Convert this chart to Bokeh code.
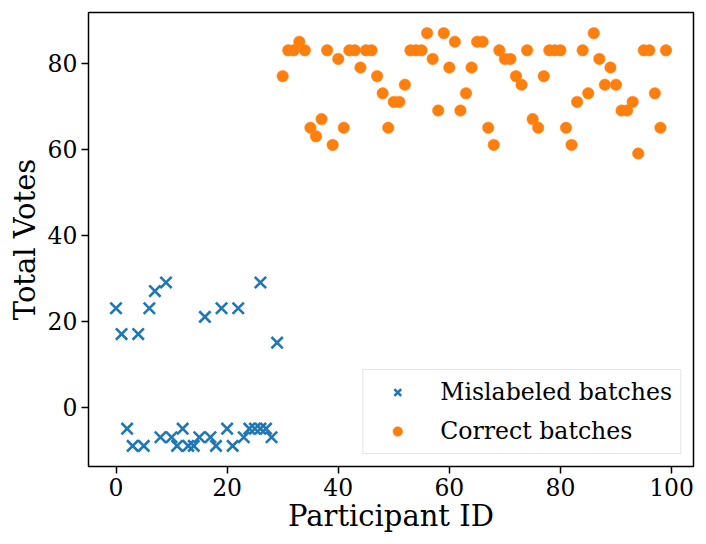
from bokeh.plotting import figure
from bokeh.models import ColumnDataSource, Range1d, FixedTicker, Legend, LegendItem
from bokeh.embed import file_html
from bokeh.resources import INLINE

# Mislabeled batches (participant id, total votes)
mis_x = [0, 1, 2, 3, 4, 5, 6, 7, 8, 9, 10, 11, 12, 13, 14, 15, 16, 17, 18, 19,
         20, 21, 22, 23, 24, 25, 26, 26, 27, 28, 29]
mis_y = [23, 17, -5, -9, 17, -9, 23, 27, -7, 29, -7, -9, -5, -9, -9, -7, 21, -7, -9, 23,
         -5, -9, 23, -7, -5, -5, 29, -5, -5, -7, 15]

# Correct batches
cor_x = list(range(30, 100))
cor_y = [77, 83, 83, 85, 83, 65, 63, 67, 83, 61,
         81, 65, 83, 83, 79, 83, 83, 77, 73, 65,
         71, 71, 75, 83, 83, 83, 87, 81, 69, 87,
         79, 85, 69, 73, 79, 85, 85, 65, 61, 83,
         81, 81, 77, 75, 83, 67, 65, 77, 83, 83,
         83, 65, 61, 71, 83, 73, 87, 81, 75, 79,
         75, 69, 69, 71, 59, 83, 83, 73, 65, 83]

x_ticks = [0, 20, 40, 60, 80, 100]
y_ticks = [0, 20, 40, 60, 80]

FONT = "DejaVu Serif"
BLUE = "#1f77b4"
ORANGE = "#ff7f0e"

p = figure(frame_width=605, frame_height=454, output_backend="svg", toolbar_location=None,
           x_range=Range1d(-4.95, 103.95), y_range=Range1d(-13.8, 91.8),
           min_border_left=88, min_border_right=13, min_border_top=12, min_border_bottom=76)
p.background_fill_color = "white"
p.border_fill_color = "white"
p.outline_line_color = "black"
p.outline_line_width = 1.5
p.xgrid.visible = False
p.ygrid.visible = False

src_m = ColumnDataSource(dict(x=mis_x, y=mis_y))
src_c = ColumnDataSource(dict(x=cor_x, y=cor_y))
r1 = p.scatter("x", "y", source=src_m, marker="x", size=16, line_color=BLUE, line_width=2.6)
r2 = p.scatter("x", "y", source=src_c, marker="circle", size=11.5, fill_color=ORANGE,
               line_color=ORANGE, line_width=0.5)

for ax, ticks, lab in ((p.xaxis[0], x_ticks, "Participant ID"), (p.yaxis[0], y_ticks, "Total Votes")):
    ax.ticker = FixedTicker(ticks=ticks)
    ax.axis_label = lab
    ax.axis_label_text_font = FONT
    ax.axis_label_text_font_size = "29px"
    ax.axis_label_text_font_style = "normal"
    ax.axis_label_text_color = "black"
    ax.major_label_text_font = FONT
    ax.major_label_text_font_size = "23.5px"
    ax.major_label_text_color = "black"
    ax.major_tick_out = 7
    ax.major_tick_in = 0
    ax.major_tick_line_width = 1.5
    ax.minor_tick_out = 0
    ax.minor_tick_in = 0
    ax.axis_line_color = None
    ax.major_label_standoff = 4
p.xaxis[0].axis_label_standoff = 0
p.yaxis[0].axis_label_standoff = 3

legend = Legend(items=[LegendItem(label="Mislabeled batches", renderers=[r1]),
                       LegendItem(label="Correct batches", renderers=[r2])],
                location="bottom_right")
legend.label_text_font = FONT
legend.label_text_font_size = "23.6px"
legend.label_text_color = "black"
legend.label_height = 24
legend.glyph_height = 24
legend.glyph_width = 52
legend.label_standoff = 17
legend.spacing = 11
legend.padding = 8
legend.margin = 12
legend.border_line_color = "#cccccc"
legend.border_line_width = 1.2
legend.background_fill_alpha = 0.8
p.add_layout(legend)

open("out.html", "w").write(file_html(p, INLINE))
